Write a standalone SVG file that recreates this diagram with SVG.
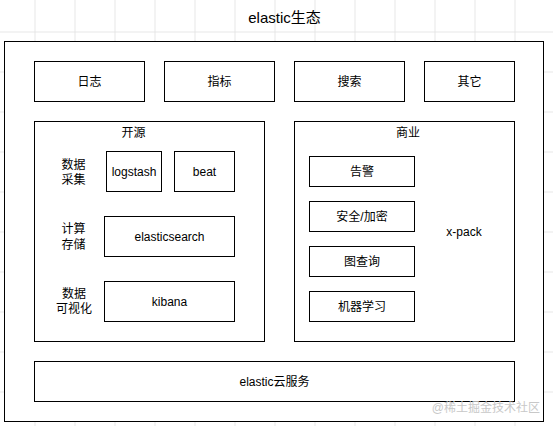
<svg xmlns="http://www.w3.org/2000/svg" width="553" height="426" viewBox="0 0 553 426">
<style>
.box{fill:#fff;stroke:#000;stroke-width:1}
.t{font-family:"Liberation Sans","Noto Sans CJK SC",sans-serif;font-size:12px;fill:#000;text-anchor:middle}
.title{font-size:15px}
.wm{font-family:"Liberation Sans","Noto Sans CJK SC",sans-serif;font-size:12px;fill:#c8c8c8;text-anchor:end}
</style>
<defs>
<pattern id="grid" x="34.5" y="31.5" width="40" height="40" patternUnits="userSpaceOnUse">
<path d="M0 0.5H40M0.5 0V40" fill="none" stroke="#e6e6e6" stroke-width="1"/>
</pattern>
</defs>
<rect width="553" height="426" fill="#fff"/>
<rect width="553" height="426" fill="url(#grid)"/>
<text class="t title" x="284.5" y="23">elastic生态</text>
<g id="outer"><rect class="box" x="4.5" y="41.5" width="539" height="380"/></g>
<g id="rizhi"><rect class="box" x="34.5" y="61.5" width="110" height="40"/><text class="t" x="89.5" y="86">日志</text></g>
<g id="zhibiao"><rect class="box" x="164.5" y="61.5" width="110" height="40"/><text class="t" x="219.5" y="86">指标</text></g>
<g id="sousuo"><rect class="box" x="294.5" y="61.5" width="110" height="40"/><text class="t" x="349.5" y="86">搜索</text></g>
<g id="qita"><rect class="box" x="424.5" y="61.5" width="90" height="40"/><text class="t" x="469.5" y="86">其它</text></g>
<g id="kaiyuan"><rect class="box" x="34.5" y="121.5" width="230" height="220"/><text class="t" x="133.5" y="137">开源</text>
<text class="t" x="73.5" y="169">数据</text><text class="t" x="73.5" y="183.5">采集</text>
<text class="t" x="73.5" y="233">计算</text><text class="t" x="73.5" y="248.5">存储</text>
<text class="t" x="74" y="297.5">数据</text><text class="t" x="74" y="313">可视化</text></g>
<g id="logstash"><rect class="box" x="106.5" y="151.5" width="55" height="40"/><text class="t" x="134" y="176">logstash</text></g>
<g id="beat"><rect class="box" x="174.5" y="151.5" width="60" height="40"/><text class="t" x="204.5" y="176">beat</text></g>
<g id="elasticsearch"><rect class="box" x="104.5" y="216.5" width="130" height="40"/><text class="t" x="169.5" y="241">elasticsearch</text></g>
<g id="kibana"><rect class="box" x="104.5" y="281.5" width="130" height="40"/><text class="t" x="169.5" y="306">kibana</text></g>
<g id="shangye"><rect class="box" x="294.5" y="121.5" width="220" height="220"/><text class="t" x="408" y="137">商业</text><text class="t" x="464" y="236">x-pack</text></g>
<g id="gaojing"><rect class="box" x="309.5" y="156.5" width="105" height="30"/><text class="t" x="362" y="176">告警</text></g>
<g id="anquan"><rect class="box" x="309.5" y="201.5" width="105" height="30"/><text class="t" x="362" y="221">安全/加密</text></g>
<g id="tuchaxun"><rect class="box" x="309.5" y="246.5" width="105" height="30"/><text class="t" x="362" y="266">图查询</text></g>
<g id="jiqixuexi"><rect class="box" x="309.5" y="291.5" width="105" height="30"/><text class="t" x="362" y="311">机器学习</text></g>
<g id="cloud"><rect class="box" x="34.5" y="361.5" width="480" height="40"/><text class="t" x="274.5" y="386">elastic云服务</text></g>
<g id="connectors"></g>
<text class="wm" x="540" y="412">@稀土掘金技术社区</text>
</svg>
